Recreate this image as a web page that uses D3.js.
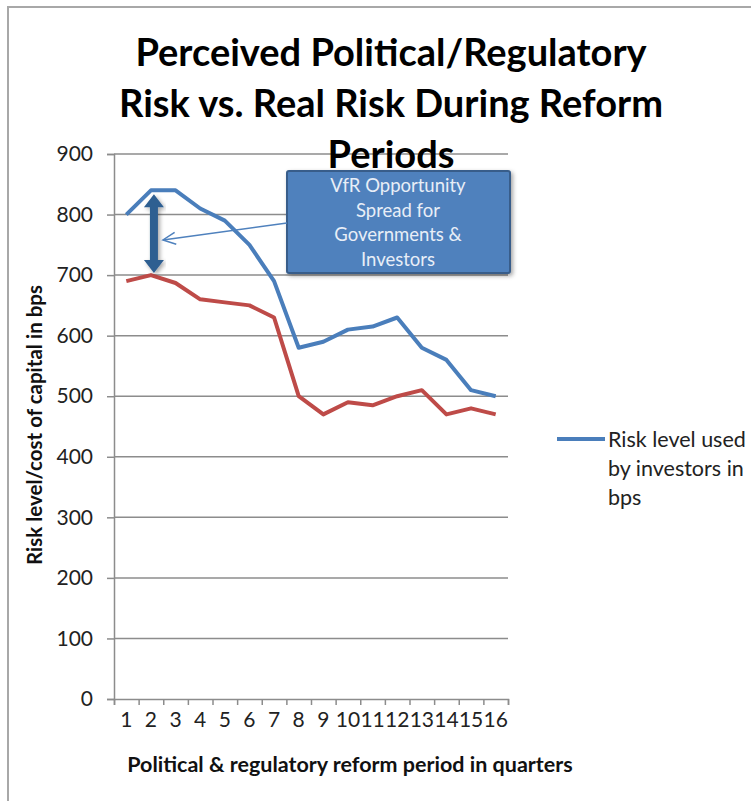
<!DOCTYPE html>
<html>
<head>
<meta charset="utf-8">
<script src="https://cdn.jsdelivr.net/npm/d3@7"></script>
<style>
  body { margin: 0; background: #fff; }
  text { font-family: Lato, 'Open Sans', sans-serif; }
</style>
</head>
<body>
<div id="chart"></div>
<script>
// data
var quarters = d3.range(1, 17)
var investorRisk = [800, 840, 840, 810, 790, 750, 690, 580, 590, 610, 615, 630, 580, 560, 510, 500]
var realRisk = [690, 700, 687, 660, 655, 650, 630, 500, 470, 490, 485, 500, 510, 470, 480, 470]
var yTicks = [0, 100, 200, 300, 400, 500, 600, 700, 800, 900]
var titleLines = ['Perceived Political/Regulatory', 'Risk vs. Real Risk During Reform', 'Periods']
var boxLines = ['VfR Opportunity', 'Spread for', 'Governments &', 'Investors']
var legendLines = ['Risk level used', 'by investors in', 'bps']

var margin = { top: 154, left: 114, right: 243, bottom: 102 }
var width = 751 - margin.left - margin.right
var height = 801 - margin.top - margin.bottom

var root = d3
  .select('#chart')
  .append('svg')
  .attr('width', 751)
  .attr('height', 801)

// outer frame (runs off the right and bottom)
root.append('rect')
  .attr('x', 8)
  .attr('y', 7)
  .attr('width', 760)
  .attr('height', 820)
  .attr('fill', 'none')
  .attr('stroke', '#a8a8a8')
  .attr('stroke-width', 2)

var svg = root.append('g')
  .attr('transform', `translate(${margin.left},${margin.top})`)

let xPositionScale = d3.scaleBand().domain(quarters).range([0, width])
let xTickScale = d3.scaleLinear().domain([0, 16]).range([0, width])
let yPositionScale = d3.scaleLinear().domain([0, 900]).range([height, 0])

/* gridlines */
svg.append('g')
  .selectAll('line')
  .data(yTicks.slice(1))
  .enter()
  .append('line')
  .attr('x1', 0)
  .attr('x2', width)
  .attr('y1', d => yPositionScale(d))
  .attr('y2', d => yPositionScale(d))
  .attr('stroke', '#8c8c8c')
  .attr('stroke-width', 1.5)

/* axes */
var yAxis = d3.axisLeft(yPositionScale).tickValues(yTicks).tickSize(7).tickPadding(14)
var yg = svg.append('g').attr('class', 'axis y-axis').call(yAxis)
yg.select('.domain').attr('stroke', '#8c8c8c').attr('stroke-width', 1.5)
yg.selectAll('.tick line').attr('stroke', '#8c8c8c').attr('stroke-width', 1.5)
yg.selectAll('text').attr('font-size', 21).attr('fill', '#222').attr('font-family', 'Lato')

var xTicks = d3.axisBottom(xTickScale).ticks(16).tickSize(6).tickFormat('')
var xg = svg.append('g')
  .attr('transform', 'translate(0,' + height + ')')
  .call(xTicks)
xg.select('.domain').attr('stroke', '#8c8c8c').attr('stroke-width', 1.5)
xg.selectAll('.tick line').attr('stroke', '#8c8c8c').attr('stroke-width', 1.5)

var xAxis = d3.axisBottom(xPositionScale).tickSize(0).tickPadding(13)
var xl = svg.append('g')
  .attr('transform', 'translate(0,' + height + ')')
  .call(xAxis)
xl.select('.domain').remove()
xl.selectAll('text').attr('font-size', 21).attr('fill', '#222').attr('font-family', 'Lato')

/* lines */
var line = d3.line()
  .x((d, i) => xPositionScale(quarters[i]) + xPositionScale.bandwidth() / 2)
  .y(d => yPositionScale(d))

svg.append('path')
  .datum(realRisk)
  .attr('d', line)
  .attr('fill', 'none')
  .attr('stroke', '#be4b48')
  .attr('stroke-width', 4)
  .attr('stroke-linejoin', 'round')

svg.append('path')
  .datum(investorRisk)
  .attr('d', line)
  .attr('fill', 'none')
  .attr('stroke', '#4a7ebb')
  .attr('stroke-width', 4)
  .attr('stroke-linejoin', 'round')

/* axis titles */
root.append('text')
  .attr('transform', 'translate(42,425) rotate(-90)')
  .attr('text-anchor', 'middle')
  .attr('font-size', 20.5)
  .attr('font-weight', 'bold')
  .attr('fill', '#111')
  .text('Risk level/cost of capital in bps')

root.append('text')
  .attr('x', 350)
  .attr('y', 772)
  .attr('text-anchor', 'middle')
  .attr('font-size', 21.5)
  .attr('font-weight', 'bold')
  .attr('fill', '#111')
  .text('Political & regulatory reform period in quarters')

/* title */
root.append('g')
  .selectAll('text')
  .data(titleLines)
  .enter()
  .append('text')
  .attr('x', 391)
  .attr('y', (d, i) => 66 + i * 51)
  .attr('text-anchor', 'middle')
  .attr('font-size', 38)
  .attr('font-weight', 'bold')
  .attr('fill', '#000')
  .text(d => d)

/* legend */
root.append('line')
  .attr('x1', 557)
  .attr('x2', 605)
  .attr('y1', 439)
  .attr('y2', 439)
  .attr('stroke', '#4a7ebb')
  .attr('stroke-width', 4)

root.append('g')
  .selectAll('text')
  .data(legendLines)
  .enter()
  .append('text')
  .attr('x', 608)
  .attr('y', (d, i) => 447 + i * 29)
  .attr('font-size', 21.5)
  .attr('fill', '#222')
  .text(d => d)

/* annotation */
var defs = root.append('defs')
defs.append('filter').attr('id', 'shadow')
  .append('feDropShadow')
  .attr('dx', 2).attr('dy', 2).attr('stdDeviation', 2)
  .attr('flood-color', '#000').attr('flood-opacity', 0.35)

var ann = svg.append('g')
var ax = xPositionScale(2) + xPositionScale.bandwidth() / 2 + 3
var aTop = yPositionScale(840) + 4
var aBot = yPositionScale(700) - 2
ann.append('path')
  .attr('d', `M${ax},${aTop} L${ax + 10},${aTop + 13} L${ax + 4},${aTop + 13} L${ax + 4},${aBot - 13} L${ax + 10},${aBot - 13} L${ax},${aBot} L${ax - 10},${aBot - 13} L${ax - 4},${aBot - 13} L${ax - 4},${aTop + 13} L${ax - 10},${aTop + 13} Z`)
  .attr('fill', '#2f5f91')
  .attr('filter', 'url(#shadow)')

var bx = 287 - margin.left
var by = 171 - margin.top
ann.append('rect')
  .attr('x', bx)
  .attr('y', by)
  .attr('width', 223)
  .attr('height', 102)
  .attr('rx', 2)
  .attr('fill', '#4f81bd')
  .attr('stroke', '#385d8a')
  .attr('stroke-width', 2)
  .attr('filter', 'url(#shadow)')

ann.selectAll('text.box')
  .data(boxLines)
  .enter()
  .append('text')
  .attr('class', 'box')
  .attr('x', bx + 111)
  .attr('y', (d, i) => by + 21 + i * 24.5)
  .attr('text-anchor', 'middle')
  .attr('font-size', 18.5)
  .attr('fill', '#e8eef7')
  .text(d => d)

// thin pointer from the box to the spread arrow
var px1 = bx, py1 = 223 - margin.top
var px2 = ax + 9, py2 = 240 - margin.top
ann.append('line')
  .attr('x1', px1).attr('y1', py1)
  .attr('x2', px2).attr('y2', py2)
  .attr('stroke', '#4f81bd')
  .attr('stroke-width', 1.5)
var ang = Math.atan2(py1 - py2, px1 - px2)
ann.append('path')
  .attr('d', `M${px2 + 14 * Math.cos(ang - 0.45)},${py2 + 14 * Math.sin(ang - 0.45)} L${px2},${py2} L${px2 + 14 * Math.cos(ang + 0.45)},${py2 + 14 * Math.sin(ang + 0.45)}`)
  .attr('fill', 'none')
  .attr('stroke', '#4f81bd')
  .attr('stroke-width', 1.5)
</script>
</body>
</html>
